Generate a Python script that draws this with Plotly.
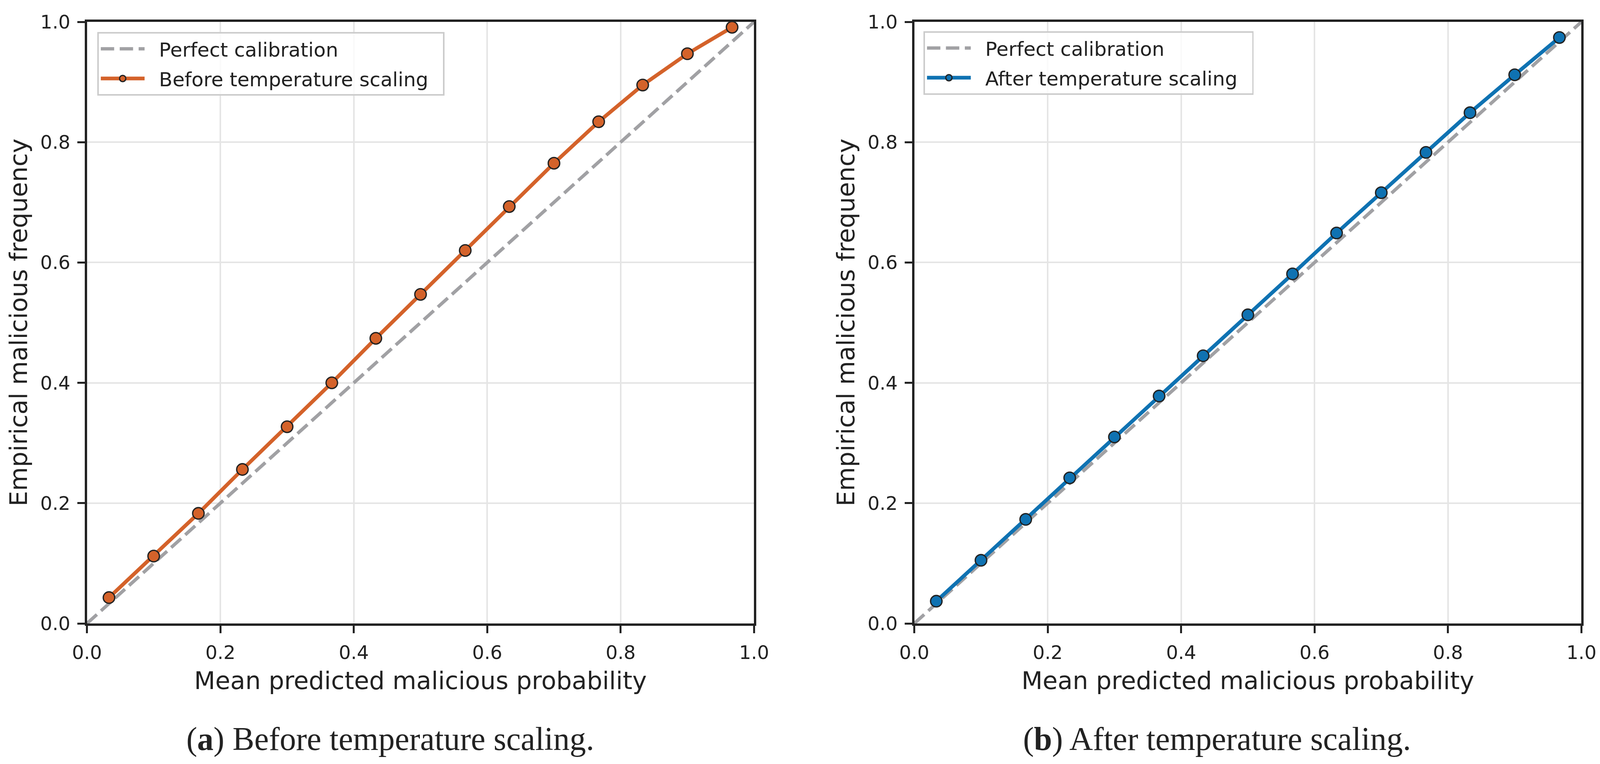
import plotly.graph_objects as go

# reference picture size (layout positions are given as fractions of it)
W, H = 4305, 1957
# the page viewport is photographed slightly enlarged; pixel sizes are compensated
S = 1 / 1.053

# ---- data ----
mean_pred = [0.033, 0.100, 0.167, 0.233, 0.300, 0.367, 0.433, 0.500,
             0.567, 0.633, 0.700, 0.767, 0.833, 0.900, 0.967]
before_freq = [0.043, 0.112, 0.183, 0.256, 0.327, 0.400, 0.474, 0.547,
               0.620, 0.693, 0.765, 0.834, 0.895, 0.947, 0.991]
after_freq = [0.037, 0.105, 0.173, 0.242, 0.310, 0.378, 0.445, 0.513,
              0.581, 0.649, 0.716, 0.783, 0.849, 0.912, 0.974]
diag = [0.0, 1.0]
tick_vals = [0.0, 0.2, 0.4, 0.6, 0.8, 1.0]

ORANGE = "#d4622a"
BLUE = "#0f72b2"
GRAY = "#a1a1a4"
INK = "#222222"
SANS = "DejaVu Sans"
SERIF = "Liberation Serif"


def px_x(p):
    return p / W


def px_y(p):
    return 1 - p / H


def sz(v):
    return v * S


L1, R1 = 234, 2029
L2, R2 = 2460, 4255
TOP, BOT = 56, 1597

fig = go.Figure()
NB = "\u00a0\u00a0"


def add_panel(xa, ya, leg, ydata, color, name, tag):
    fig.add_trace(go.Scatter(
        x=diag, y=diag, mode="lines", name=NB + "Perfect calibration" + NB,
        line=dict(color=GRAY, width=sz(9), dash=f"{sz(36):.1f}px,{sz(15):.1f}px"),
        xaxis=xa, yaxis=ya, legend=leg, legendgroup=tag + "p",
        cliponaxis=False, hoverinfo="skip"))
    fig.add_trace(go.Scatter(
        x=mean_pred, y=ydata, mode="lines+markers", name=NB + name + NB,
        line=dict(color=color, width=sz(10)),
        marker=dict(size=sz(31), color=color, line=dict(color=INK, width=sz(3.5))),
        xaxis=xa, yaxis=ya, legend=leg, legendgroup=tag + "c",
        cliponaxis=False))


add_panel("x", "y", "legend", before_freq, ORANGE, "Before temperature scaling", "a")
add_panel("x2", "y2", "legend2", after_freq, BLUE, "After temperature scaling", "b")

axis_common = dict(
    range=[0, 1], tickvals=tick_vals, tickformat=".1f",
    showgrid=True, gridcolor="#e5e5e5", gridwidth=sz(4),
    showline=True, linecolor=INK, linewidth=sz(6), mirror=True,
    ticks="outside", ticklen=sz(20), tickwidth=sz(5), tickcolor=INK,
    tickfont=dict(family=SANS, size=sz(51), color=INK),
    ticklabelstandoff=int(round(sz(8))),
    zeroline=False, automargin=False, fixedrange=True,
)

ydom = [px_y(BOT), px_y(TOP)]
fig.update_layout(
    autosize=True,
    margin=dict(l=0, r=0, t=0, b=0, pad=0),
    paper_bgcolor="white", plot_bgcolor="white",
    xaxis=dict(domain=[px_x(L1), px_x(R1)], anchor="y", **axis_common),
    yaxis=dict(domain=ydom, anchor="x", **axis_common),
    xaxis2=dict(domain=[px_x(L2), px_x(R2)], anchor="y2", **axis_common),
    yaxis2=dict(domain=ydom, anchor="x2", **axis_common),
    showlegend=True,
)

legend_common = dict(
    xanchor="left", yanchor="top",
    bgcolor="rgba(255,255,255,0.8)", bordercolor="#cccccc", borderwidth=sz(4),
    font=dict(family=SANS, size=sz(53), color=INK),
    itemwidth=sz(118), tracegroupgap=sz(8), traceorder="grouped",
)
fig.update_layout(
    legend=dict(x=px_x(262), y=px_y(82), **legend_common),
    legend2=dict(x=px_x(2485), y=px_y(80), **legend_common),
)

# axis titles
for cx in [(L1 + R1) / 2, (L2 + R2) / 2]:
    fig.add_annotation(text="Mean predicted malicious probability",
                       x=px_x(cx), y=px_y(1743), xref="paper", yref="paper",
                       xanchor="center", yanchor="middle", showarrow=False,
                       font=dict(family=SANS, size=sz(66), color=INK))
for cx in [50, 50 + (L2 - L1)]:
    fig.add_annotation(text="Empirical malicious frequency",
                       x=px_x(cx), y=px_y((TOP + BOT) / 2), xref="paper", yref="paper",
                       xanchor="center", yanchor="middle", showarrow=False,
                       textangle=-90,
                       font=dict(family=SANS, size=sz(66), color=INK))

# sub-captions
captions = [("(<b>a</b>) Before temperature scaling.", 1050),
            ("(<b>b</b>) After temperature scaling.", 3274)]
for txt, cx in captions:
    fig.add_annotation(text=txt, x=px_x(cx), y=px_y(1893), xref="paper", yref="paper",
                       xanchor="center", yanchor="middle", showarrow=False,
                       font=dict(family=SERIF, size=sz(88), color=INK))

post = (
    "document.documentElement.style.margin='0';"
    "document.body.style.margin='0';"
    "document.documentElement.style.overflow='hidden';"
    "document.body.style.overflow='hidden';"
    "var gd=document.getElementById('{plot_id}');"
    "if(window.Plotly&&gd){Plotly.Plots.resize(gd);}"
)

fig.write_html("out.html", default_width="100vw", default_height="100vh",
               config={"responsive": True, "displayModeBar": False},
               post_script=post)
